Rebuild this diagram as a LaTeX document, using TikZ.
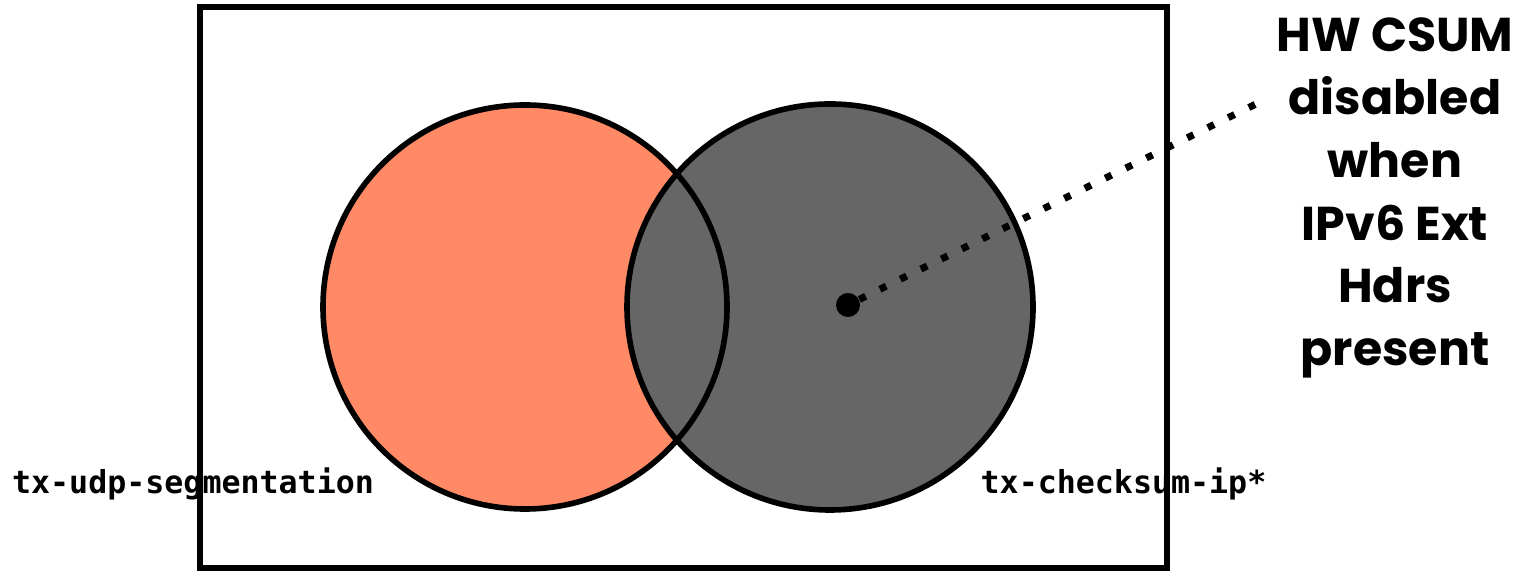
\documentclass[tikz,border=0pt]{standalone}
\usepackage{fontspec}
\newfontfamily\handfont{Poppins}
\newfontfamily\codefont{DejaVu Sans Mono}
\usetikzlibrary{positioning}

\begin{document}
\begin{tikzpicture}[
    setcircle/.style={circle, minimum size=4.04cm, inner sep=0pt},
    outline/.style={draw=black, line width=1.6pt},
    codelabel/.style={font=\codefont\bfseries\fontsize{9}{11}\selectfont, inner sep=0pt},
    note/.style={font=\handfont\bfseries\fontsize{13.5}{17.9}\selectfont, align=center, inner sep=0pt}
]
    \useasboundingbox (0,0) rectangle (15.36,5.72);

    % Frame
    \node[outline, minimum width=9.67cm, minimum height=5.61cm, inner sep=0pt] (frame) at (6.835, 2.845) {};

    % Sets
    \node[setcircle, fill={rgb,255:red,255;green,138;blue,101}] (udp) at (5.25, 2.65) {};
    \node[setcircle, fill={rgb,255:red,102;green,102;blue,102}, minimum size=4.06cm] (csum) at (8.30, 2.65) {};
    \node[setcircle, outline] at (udp) {};
    \node[setcircle, outline, minimum size=4.06cm] at (csum) {};

    % Point and note
    \node[circle, fill=black, minimum size=0.24cm, inner sep=0pt] (pt) at (8.48, 2.67) {};
    \node[note] (hwnote) at (13.95, 3.74) {HW CSUM\\disabled\\when\\IPv6 Ext\\Hdrs\\present};
    \coordinate (tip) at (12.58, 4.69);
    \draw[line width=2pt, dash pattern=on 2pt off 4.5pt] (pt) -- (tip);

    % Labels
    \node[codelabel] (udplabel) at (1.93, 0.88) {tx-udp-segmentation};
    \node[codelabel] (csumlabel) at (11.235, 0.88) {tx-checksum-ip*};
\end{tikzpicture}
\end{document}
